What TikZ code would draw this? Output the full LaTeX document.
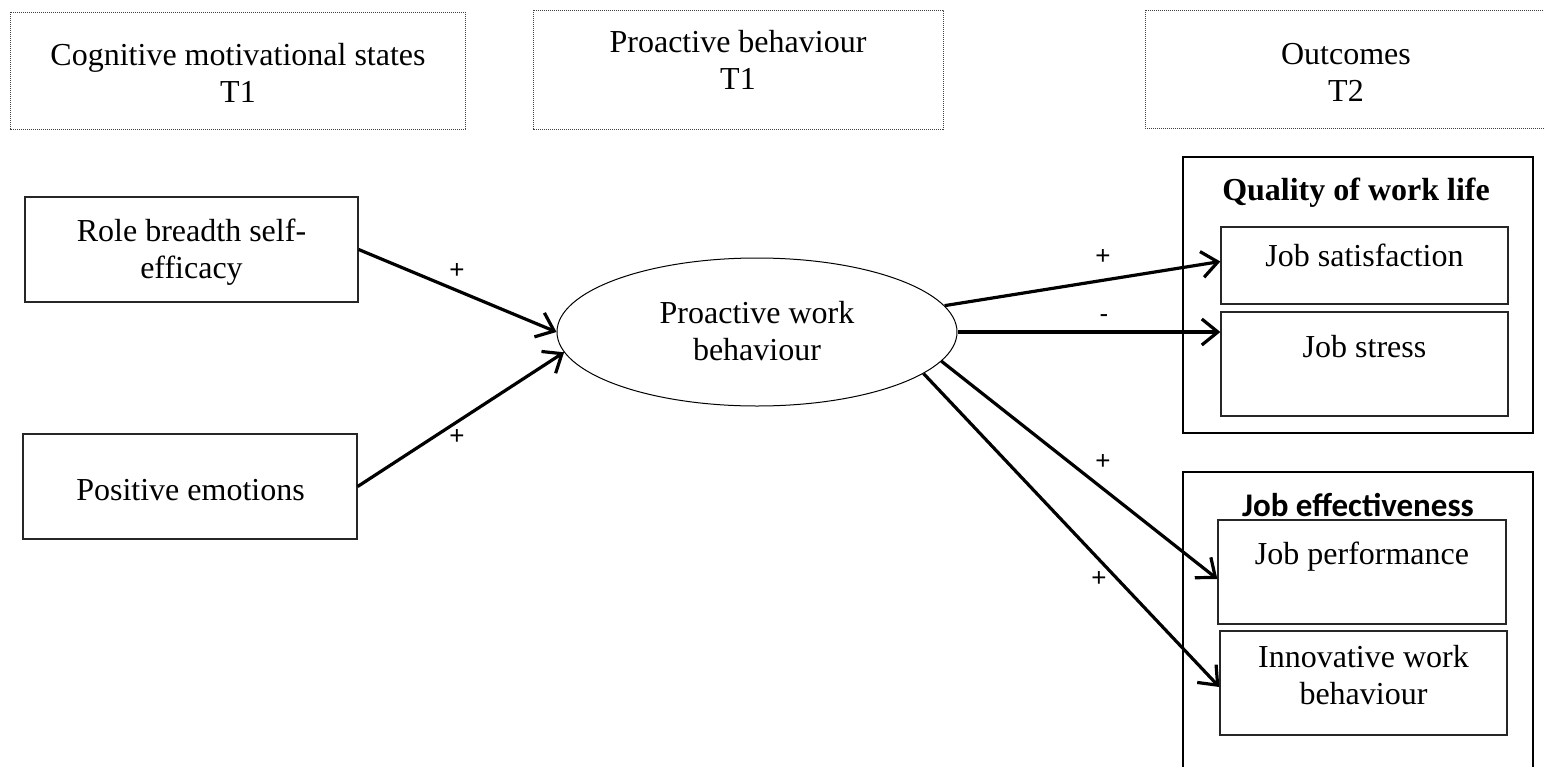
\documentclass[tikz,border=0pt]{standalone}
\usepackage{fontspec}
\setmainfont{Liberation Serif}
\newfontfamily\sansplus{Liberation Sans}
\newfontfamily\carlito{Carlito}
\usetikzlibrary{shapes.geometric,arrows.meta}
\begin{document}
\begin{tikzpicture}[x=1pt,y=-1pt,
  txt/.style={font=\fontsize{32}{37}\selectfont, align=center, inner sep=0pt},
  topbox/.style={draw=black!75, line width=1pt, dash pattern=on 1.2pt off 0.8pt},
  plainbox/.style={draw=black!85, line width=1.3pt},
  outerbox/.style={draw=black, line width=1.3pt},
  conn/.style={line width=3.2pt, -{Straight Barb[length=16pt,width=26pt,line width=3.2pt]}},
  sgn/.style={font=\sansplus\fontsize{26}{30}\selectfont, inner sep=0pt}]
\useasboundingbox (0,0) rectangle (1544,766);
\fill[white] (0,0) rectangle (1544,766);

% top header boxes
\draw[topbox] (10,12) rectangle (465,129);
\node[txt] (h1) at (238,73) {Cognitive motivational states\\T1};
\draw[topbox] (533,10) rectangle (943,129);
\node[txt] (h2) at (738,60) {Proactive behaviour\\T1};
\draw[topbox] (1145,10) rectangle (1560,128);
\node[txt] (h3) at (1346,72) {Outcomes\\T2};

% left boxes
\node[plainbox, minimum width=333pt, minimum height=105pt, inner sep=0pt] (rb) at (191.5,249.5) {};
\node[txt] (rbT) at (191.5,252) {Role breadth self-\\efficacy};
\node[plainbox, minimum width=334pt, minimum height=105pt, inner sep=0pt] (pe) at (190,486.5) {};
\node[txt] (peT) at (190.5,490) {Positive emotions};

% ellipse
\node[ellipse, draw, line width=1pt, minimum width=400pt, minimum height=148pt, inner sep=0pt] (pw) at (757,332) {};
\node[txt] (pwT) at (757,331) {Proactive work\\behaviour};

% quality of work life
\draw[outerbox] (1183,157) rectangle (1533,433);
\node[txt, font=\bfseries\fontsize{32}{37}\selectfont] (qwlT) at (1356,193) {Quality of work life};
\node[plainbox, minimum width=287pt, minimum height=77pt, inner sep=0pt] (jsat) at (1364.5,265.5) {};
\node[txt] (jsatT) at (1364.5,255) {Job satisfaction};
\node[plainbox, minimum width=287pt, minimum height=104pt, inner sep=0pt] (jst) at (1364.5,364) {};
\node[txt] (jstT) at (1364.5,347) {Job stress};

% job effectiveness
\draw[outerbox] (1183,780) -- (1183,472) -- (1533,472) -- (1533,780);
\node[txt, font=\carlito\bfseries\fontsize{33}{38}\selectfont] (jeT) at (1358,505) {Job effectiveness};
\node[plainbox, minimum width=288pt, minimum height=104pt, inner sep=0pt] (jp) at (1362,572) {};
\node[txt] (jpT) at (1362,557) {Job performance};
\node[plainbox, minimum width=287pt, minimum height=104pt, inner sep=0pt] (iwb) at (1363.5,683) {};
\node[txt] (iwbT) at (1363.5,675) {Innovative work\\behaviour};

% connectors
\draw[conn] (rb.east) -- (pw.west);
\draw[conn] (pe.east) -- (pw.186);
\draw[conn] (pw.8) -- ([yshift=4pt]jsat.west);
\draw[conn] (pw.east) -- (pw.east -| jst.west);
\draw[conn] (pw.-9.5) -- ([yshift=-7pt]jp.west);
\draw[conn] (pw.-14.8) -- ([yshift=-4pt]iwb.west);

% signs
\node[sgn] (s1) at (457,271) {+};
\node[sgn] (s2) at (457,437) {+};
\node[sgn] (s3) at (1103,257) {+};
\node[sgn] (s4) at (1104,319) {-};
\node[sgn] (s5) at (1103,462) {+};
\node[sgn] (s6) at (1099,579) {+};
\end{tikzpicture}
\end{document}
